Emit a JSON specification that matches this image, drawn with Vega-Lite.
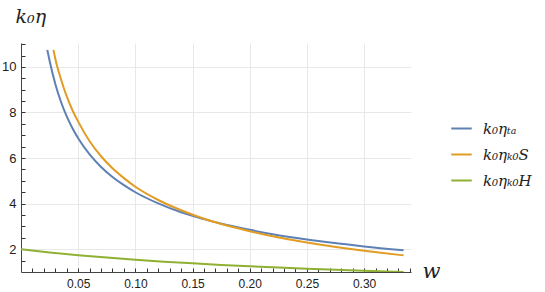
{
  "$schema": "https://vega.github.io/schema/vega-lite/v6.json",
  "autosize": "none",
  "width": 390,
  "height": 229,
  "padding": {"left": 21, "top": 43, "right": 134, "bottom": 20},
  "background": "white",
  "config": {"view": {"stroke": null}, "axis": {"ticks": true, "tickColor": "#333", "tickWidth": 1}},
  "data": {"values": [
    {"w": 0.023, "v": 10.75, "s": "ta"},
    {"w": 0.025, "v": 10.27, "s": "ta"},
    {"w": 0.03, "v": 9.25, "s": "ta"},
    {"w": 0.035, "v": 8.46, "s": "ta"},
    {"w": 0.04, "v": 7.83, "s": "ta"},
    {"w": 0.045, "v": 7.31, "s": "ta"},
    {"w": 0.05, "v": 6.87, "s": "ta"},
    {"w": 0.06, "v": 6.16, "s": "ta"},
    {"w": 0.07, "v": 5.61, "s": "ta"},
    {"w": 0.08, "v": 5.17, "s": "ta"},
    {"w": 0.09, "v": 4.81, "s": "ta"},
    {"w": 0.1, "v": 4.5, "s": "ta"},
    {"w": 0.12, "v": 4.01, "s": "ta"},
    {"w": 0.14, "v": 3.62, "s": "ta"},
    {"w": 0.16, "v": 3.32, "s": "ta"},
    {"w": 0.18, "v": 3.06, "s": "ta"},
    {"w": 0.2, "v": 2.85, "s": "ta"},
    {"w": 0.22, "v": 2.66, "s": "ta"},
    {"w": 0.25, "v": 2.43, "s": "ta"},
    {"w": 0.28, "v": 2.24, "s": "ta"},
    {"w": 0.3, "v": 2.12, "s": "ta"},
    {"w": 0.3345, "v": 1.95, "s": "ta"},
    {"w": 0.0284, "v": 10.75, "s": "S"},
    {"w": 0.03, "v": 10.36, "s": "S"},
    {"w": 0.035, "v": 9.45, "s": "S"},
    {"w": 0.04, "v": 8.71, "s": "S"},
    {"w": 0.045, "v": 8.1, "s": "S"},
    {"w": 0.05, "v": 7.6, "s": "S"},
    {"w": 0.06, "v": 6.74, "s": "S"},
    {"w": 0.07, "v": 6.08, "s": "S"},
    {"w": 0.08, "v": 5.55, "s": "S"},
    {"w": 0.09, "v": 5.12, "s": "S"},
    {"w": 0.1, "v": 4.74, "s": "S"},
    {"w": 0.12, "v": 4.16, "s": "S"},
    {"w": 0.14, "v": 3.71, "s": "S"},
    {"w": 0.16, "v": 3.34, "s": "S"},
    {"w": 0.18, "v": 3.04, "s": "S"},
    {"w": 0.2, "v": 2.79, "s": "S"},
    {"w": 0.22, "v": 2.57, "s": "S"},
    {"w": 0.25, "v": 2.29, "s": "S"},
    {"w": 0.28, "v": 2.06, "s": "S"},
    {"w": 0.3, "v": 1.93, "s": "S"},
    {"w": 0.3345, "v": 1.73, "s": "S"},
    {"w": 0.0, "v": 2.0, "s": "H"},
    {"w": 0.025, "v": 1.86, "s": "H"},
    {"w": 0.05, "v": 1.74, "s": "H"},
    {"w": 0.075, "v": 1.633, "s": "H"},
    {"w": 0.1, "v": 1.538, "s": "H"},
    {"w": 0.125, "v": 1.455, "s": "H"},
    {"w": 0.15, "v": 1.379, "s": "H"},
    {"w": 0.175, "v": 1.311, "s": "H"},
    {"w": 0.2, "v": 1.25, "s": "H"},
    {"w": 0.225, "v": 1.194, "s": "H"},
    {"w": 0.25, "v": 1.143, "s": "H"},
    {"w": 0.275, "v": 1.096, "s": "H"},
    {"w": 0.3, "v": 1.053, "s": "H"},
    {"w": 0.3345, "v": 1.0, "s": "H"}
  ]},
  "mark": {"type": "line", "interpolate": "monotone", "strokeWidth": 2, "clip": true},
  "encoding": {
    "x": {"field": "w", "type": "quantitative",
      "scale": {"domain": [0, 0.341], "nice": false, "zero": false},
      "axis": {"values": [0.01,0.02,0.03,0.04,0.05,0.06,0.07,0.08,0.09,0.1,0.11,0.12,0.13,0.14,0.15,0.16,0.17,0.18,0.19,0.2,0.21,0.22,0.23,0.24,0.25,0.26,0.27,0.28,0.29,0.3,0.31,0.32,0.33,0.34],
        "labelExpr": "abs(datum.value*20 - round(datum.value*20)) < 0.001 ? format(datum.value, '.2f') : ''",
        "grid": true, "gridColor": "#e8e8e8",
        "gridOpacity": {"condition": {"test": "abs(datum.value*20 - round(datum.value*20)) < 0.001", "value": 1}, "value": 0},
        "tickSize": -4,
        "domainColor": "#444",
        "labelPadding": 10, "labelFont": "Liberation Sans", "labelFontSize": 12, "labelColor": "#222",
        "title": "w", "titleFont": "DejaVu Serif", "titleFontStyle": "italic", "titleFontWeight": "normal", "titleFontSize": 21,
        "titleAlign": "left", "titleBaseline": "alphabetic", "titleX": 401, "titleY": 5, "titleColor": "#222"}},
    "y": {"field": "v", "type": "quantitative",
      "scale": {"domain": [1, 11.05], "nice": false, "zero": false},
      "axis": {"values": [1.5,2,2.5,3,3.5,4,4.5,5,5.5,6,6.5,7,7.5,8,8.5,9,9.5,10,10.5,11],
        "labelExpr": "datum.value % 2 == 0 ? format(datum.value, 'd') : ''",
        "grid": true, "gridColor": "#e8e8e8",
        "gridOpacity": {"condition": {"test": "datum.value % 2 == 0", "value": 1}, "value": 0},
        "tickSize": -4,
        "domainColor": "#444",
        "labelPadding": 9, "labelFont": "Liberation Sans", "labelFontSize": 13, "labelColor": "#222",
        "title": "k₀η", "titleAngle": 0, "titleFont": "DejaVu Serif", "titleFontStyle": "italic", "titleFontWeight": "normal", "titleFontSize": 19,
        "titleAlign": "left", "titleBaseline": "alphabetic", "titleX": -6, "titleY": -21, "titleColor": "#222"}},
    "color": {"field": "s", "type": "nominal",
      "scale": {"domain": ["ta", "S", "H"], "range": ["#5e81b5", "#e19c24", "#8fb032"]},
      "legend": {"orient": "none", "legendX": 429, "legendY": 74, "title": null,
        "labelExpr": "datum.value == 'ta' ? 'k₀ηₜₐ' : datum.value == 'S' ? 'k₀ηₖ₀S' : 'k₀ηₖ₀H'",
        "symbolType": "stroke", "symbolSize": 420, "symbolStrokeWidth": 2,
        "labelFont": "DejaVu Serif", "labelFontStyle": "italic", "labelFontSize": 15, "labelColor": "#222",
        "rowPadding": 6, "labelOffset": 10}}
  }
}
